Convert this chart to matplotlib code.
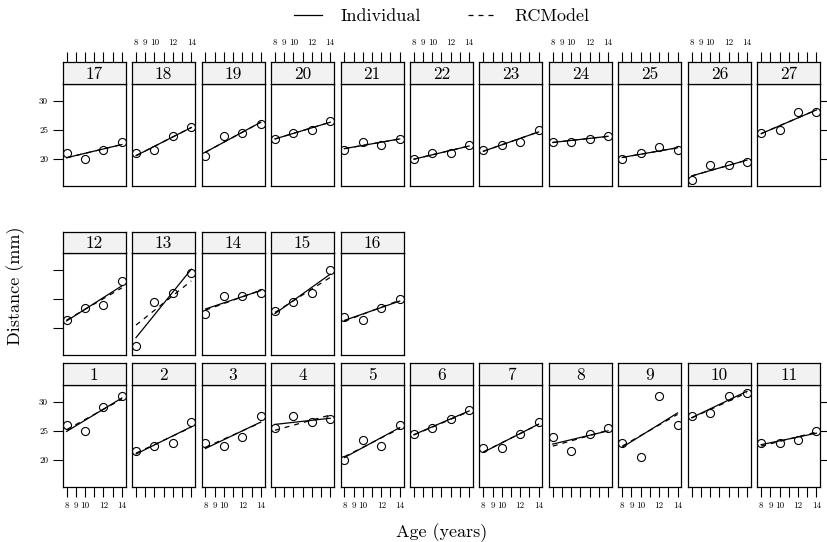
import numpy as np
import matplotlib.pyplot as plt
from matplotlib.lines import Line2D

plt.rcParams['font.family'] = ['cmr10', 'DejaVu Serif']
plt.rcParams['axes.unicode_minus'] = False

# ---- data: orthodontic distance by age, one row per subject ----------------
ages = [8, 10, 12, 14]
subjects = list(range(1, 28))
distance = [
    [26.0, 25.0, 29.0, 31.0],
    [21.5, 22.5, 23.0, 26.5],
    [23.0, 22.5, 24.0, 27.5],
    [25.5, 27.5, 26.5, 27.0],
    [20.0, 23.5, 22.5, 26.0],
    [24.5, 25.5, 27.0, 28.5],
    [22.0, 22.0, 24.5, 26.5],
    [24.0, 21.5, 24.5, 25.5],
    [23.0, 20.5, 31.0, 26.0],
    [27.5, 28.0, 31.0, 31.5],
    [23.0, 23.0, 23.5, 25.0],
    [21.5, 23.5, 24.0, 28.0],
    [17.0, 24.5, 26.0, 29.5],
    [22.5, 25.5, 25.5, 26.0],
    [23.0, 24.5, 26.0, 30.0],
    [22.0, 21.5, 23.5, 25.0],
    [21.0, 20.0, 21.5, 23.0],
    [21.0, 21.5, 24.0, 25.5],
    [20.5, 24.0, 24.5, 26.0],
    [23.5, 24.5, 25.0, 26.5],
    [21.5, 23.0, 22.5, 23.5],
    [20.0, 21.0, 21.0, 22.5],
    [21.5, 22.5, 23.0, 25.0],
    [23.0, 23.0, 23.5, 24.0],
    [20.0, 21.0, 22.0, 21.5],
    [16.5, 19.0, 19.0, 19.5],
    [24.5, 25.0, 28.0, 28.0],
]

# random coefficient model predictions at age 8 and age 14
rc_at8 = [25.2, 21.2, 22.2, 25.1, 20.6, 24.3, 21.4, 22.4, 22.4, 27.2, 22.4,
          21.4, 20.55, 23.1, 22.7, 21.2, 20.25, 20.6, 21.2, 23.45, 21.8,
          20.0, 21.35, 22.85, 20.3, 17.15, 24.35]
rc_at14 = [30.4, 25.6, 26.4, 27.7, 25.4, 28.3, 26.1, 25.1, 27.8, 31.5, 24.8,
           26.9, 28.1, 26.5, 28.7, 24.8, 22.5, 25.4, 26.3, 26.3, 23.45,
           22.25, 24.65, 23.9, 21.95, 19.85, 28.4]

x_ticks = [8, 9, 10, 11, 12, 13, 14]
x_ticklabels = ['8', '9', '10', '', '12', '', '14']
y_ticks = [20, 25, 30]

# ---- layout (pixels) --------------------------------------------------------
W, H = 828, 542
fig = plt.figure(figsize=(W / 100, H / 100), dpi=100)


def box(x0, y0, x1, y1):
    return [x0 / W, 1 - y1 / H, (x1 - x0) / W, (y1 - y0) / H]


col_left, col_pitch, panel_w = 62.7, 69.46, 63.0
# strip top, panel top, panel bottom for each row (0 = bottom row)
rows = {0: (362.7, 385.0, 487.0),
        1: (231.7, 253.3, 355.0),
        2: (62.0, 84.0, 186.0)}
xlim = (7.58, 14.42)
ylim = (15.43, 32.82)
lw = 0.9
dash = (0, (4, 4))
tick_kw = dict(direction='out', length=7, width=0.8, labelsize=6.5, pad=3.5)

for i, subj in enumerate(subjects):
    if i < 11:
        row, col = 0, i
    elif i < 16:
        row, col = 1, i - 11
    else:
        row, col = 2, i - 16
    stop, ptop, pbot = rows[row]
    left = col_left + col * col_pitch

    ax = fig.add_axes(box(left, ptop, left + panel_w, pbot))
    ax.set_xlim(*xlim)
    ax.set_ylim(*ylim)
    y = distance[i]
    fit = np.polyfit(ages, y, 1)
    ax.plot([8, 14], np.polyval(fit, [8, 14]), color='k', lw=lw)
    ax.plot([8, 14], [rc_at8[i], rc_at14[i]], color='k', lw=lw, ls=dash)
    ax.plot(ages, y, 'o', mfc='none', mec='k', ms=5.8, mew=0.8)

    for sp in ax.spines.values():
        sp.set_linewidth(lw)
    ax.tick_params(**tick_kw)
    ax.set_xticks(x_ticks)
    ax.set_yticks(y_ticks)
    ax.tick_params(top=False, right=False)
    if row == 0:
        ax.set_xticklabels(x_ticklabels)
        ax.tick_params(labelbottom=(col % 2 == 0))
    else:
        ax.tick_params(bottom=False, labelbottom=False)
    if col == 0:
        ax.tick_params(labelleft=(row != 1))
    else:
        ax.tick_params(left=False, labelleft=False)
    if col == 10:
        ax.tick_params(right=True, labelright=False)

    # strip with the subject number
    sax = fig.add_axes(box(left, stop, left + panel_w, ptop))
    sax.set_facecolor('#f2f2f2')
    sax.set_xlim(*xlim)
    sax.set_yticks([])
    for sp in sax.spines.values():
        sp.set_linewidth(lw)
    sax.text(0.5, 0.45, str(subj), transform=sax.transAxes,
             ha='center', va='center', fontsize=12.5)
    if row == 2:
        sax.set_xticks(x_ticks)
        sax.set_xticklabels(x_ticklabels)
        sax.tick_params(**tick_kw)
        sax.tick_params(bottom=False, labelbottom=False, top=True,
                        labeltop=(col % 2 == 1))
    else:
        sax.set_xticks([])

handles = [Line2D([], [], color='k', lw=lw),
           Line2D([], [], color='k', lw=lw, ls=dash)]
fig.legend(handles, ['Individual', 'RCModel'], loc='center',
           bbox_to_anchor=(441.7 / W, 1 - 16 / H), ncol=2, frameon=False,
           fontsize=13, handlelength=1.6, handletextpad=1.0,
           columnspacing=2.6)

fig.text(16 / W, 1 - 286 / H, 'Distance (mm)', rotation=90,
         ha='center', va='center', fontsize=13)
fig.text(441.5 / W, 1 - 533 / H, 'Age (years)',
         ha='center', va='center', fontsize=13)

fig.savefig('out.png', dpi=100)
